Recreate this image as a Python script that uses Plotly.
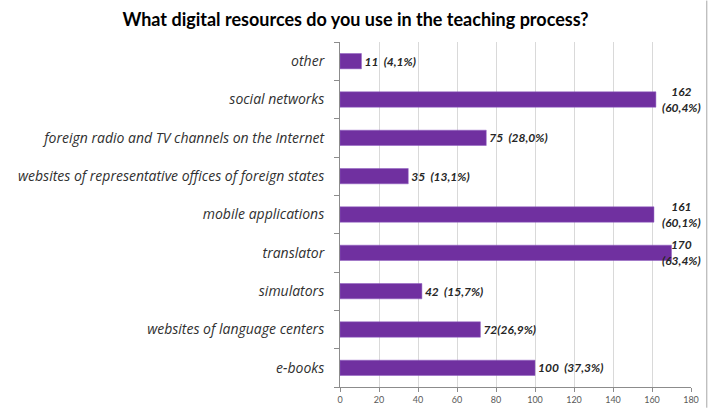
import plotly.graph_objects as go

categories = ["e-books", "websites of language centers", "simulators", "translator",
              "mobile applications", "websites of representative offices of foreign states",
              "foreign radio and TV channels on the Internet", "social networks", "other"]
values = [100, 72, 42, 170, 161, 35, 75, 162, 11]
labels = ["100  (37,3%)", "72(26,9%)", "42  (15,7%)", "170<br>(63,4%)", "161<br>(60,1%)",
          "35  (13,1%)", "75  (28,0%)", "162<br>(60,4%)", "11  (4,1%)"]
x_ticks = [0, 20, 40, 60, 80, 100, 120, 140, 160, 180]

label_font = dict(family="Lato", size=12, color="#262626")
bar_text = ["" if "<br>" in t else t for t in labels]

fig = go.Figure(go.Bar(
    y=categories, x=values, orientation="h",
    marker=dict(color="#7030A0", line=dict(color="#8e5cc0", width=0.5)),
    text=bar_text, textposition="outside", cliponaxis=False, constraintext="none",
    textfont=label_font,
    texttemplate="<b><i>%{text}</i></b>",
))

for c, t in zip(categories, labels):
    if "<br>" in t:
        fig.add_annotation(x=1.035, xref="paper", y=c, yref="y", xanchor="right",
                           yanchor="middle", align="center", showarrow=False,
                           text="<b><i>%s</i></b>" % t.replace("<br>", "<br><span style='font-size:2px'> </span><br>") if False else "<b><i>%s</i></b>" % t,
                           font=label_font)

# chart border on the right edge
fig.add_shape(type="line", xref="paper", yref="paper", x0=1.045, x1=1.045,
              y0=-0.06, y1=1.12, line=dict(color="#a6a6a6", width=1))

fig.update_layout(
    width=711, height=417,
    margin=dict(l=340, r=18, t=42, b=19),
    paper_bgcolor="white", plot_bgcolor="white",
    title=dict(text="<b>What digital resources do you use in the teaching process?</b>",
               x=0.5, xanchor="center", y=0.952, yanchor="middle",
               font=dict(family="Lato", size=18, color="#000000")),
    bargap=0.6, showlegend=False,
)
fig.update_xaxes(range=[0, 180], tickvals=x_ticks, showgrid=True, gridcolor="#d9d9d9",
                 gridwidth=1, zeroline=False, showline=True, linecolor="#8c8c8c",
                 ticks="outside", ticklen=4, tickcolor="#8c8c8c",
                 tickfont=dict(family="Lato", size=9, color="#595959"))
fig.update_yaxes(categoryorder="array", categoryarray=categories, showline=True,
                 linecolor="#8c8c8c", ticks="outside", ticklen=5, tickcolor="#8c8c8c",
                 tickson="boundaries", showgrid=False,
                 tickfont=dict(family="Open Sans", size=14, color="#303030"),
                 ticklabelstandoff=12)
fig.update_yaxes(ticktext=["<i>%s</i>" % c for c in categories], tickvals=categories)

fig.write_html("out.html")
